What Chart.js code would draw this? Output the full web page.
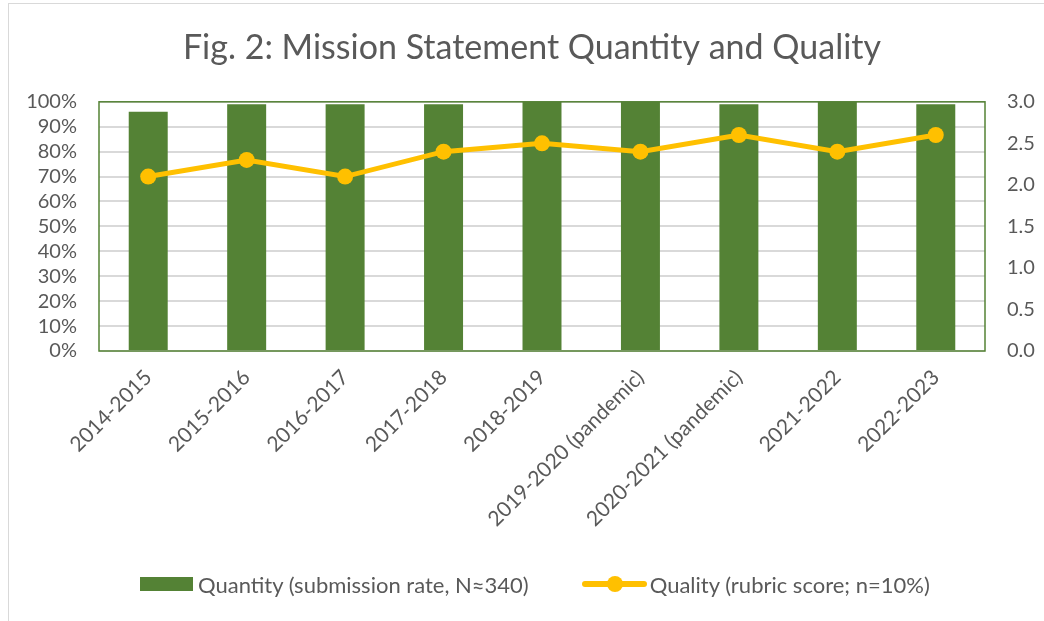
<!DOCTYPE html>
<html>
<head>
<meta charset="utf-8">
<script src="https://cdn.jsdelivr.net/npm/chart.js@4.4.0/dist/chart.umd.min.js"></script>
<style>
  body { margin: 0; background: #fff; overflow: hidden; font-family: Lato, sans-serif; }
  #frame {
    position: absolute;
    left: 8px;
    top: 3px;
    width: 1100px;
    height: 700px;
    border: 1px solid #d9d9d9;
  }
  #wrap { position: absolute; left: 0; top: 0; width: 1044px; height: 621px; }
  #legend {
    position: absolute;
    left: 140px;
    top: 570px;
    height: 28px;
    display: flex;
    align-items: center;
    color: #595959;
    font-size: 22px;
    white-space: nowrap;
  }
  .item { display: flex; align-items: center; }
  .item + .item { margin-left: 53px; }
  .box { width: 53px; height: 14px; background: #548235; margin-right: 5px; }
  .sym { position: relative; width: 65px; height: 18px; margin-right: 3px; }
  .sym::before {
    content: ''; position: absolute; left: 0; right: 0; top: 6px; height: 6px;
    background: #FFC000; border-radius: 3px;
  }
  .sym::after {
    content: ''; position: absolute; left: 25px; top: 1px; width: 16px; height: 16px;
    background: #FFC000; border-radius: 50%;
  }
</style>
</head>
<body>
<div id="frame"></div>
<div id="wrap"><canvas id="chart" width="1044" height="621"></canvas></div>
<div id="legend"></div>
<script>
const categories = [
  '2014-2015', '2015-2016', '2016-2017', '2017-2018', '2018-2019',
  '2019-2020 (pandemic)', '2020-2021 (pandemic)', '2021-2022', '2022-2023'
];
const quantity = [96, 99, 99, 99, 100, 100, 99, 100, 99];
const quality = [2.1, 2.3, 2.1, 2.4, 2.5, 2.4, 2.6, 2.4, 2.6];
const leftTicks = [0, 10, 20, 30, 40, 50, 60, 70, 80, 90, 100];
const rightTicks = [0, 0.5, 1, 1.5, 2, 2.5, 3];

const green = '#548235';
const gold = '#FFC000';
const textColor = '#595959';
const font = 'Lato';

const plotBorder = {
  id: 'plotBorder',
  afterDatasetsDraw(chart) {
    const a = chart.chartArea;
    const ctx = chart.ctx;
    ctx.save();
    ctx.strokeStyle = green;
    ctx.lineWidth = 1.5;
    ctx.strokeRect(a.left, a.top, a.right - a.left, a.bottom - a.top);
    ctx.restore();
  }
};

const chart = new Chart(document.getElementById('chart'), {
  data: {
    labels: categories,
    datasets: [
      {
        type: 'line',
        label: 'Quality (rubric score; n=10%)',
        data: quality,
        yAxisID: 'y1',
        borderColor: gold,
        backgroundColor: gold,
        borderWidth: 5,
        pointRadius: 8,
        pointHoverRadius: 8,
        pointBorderWidth: 0,
        tension: 0,
        order: 0
      },
      {
        type: 'bar',
        label: 'Quantity (submission rate, N≈340)',
        data: quantity,
        yAxisID: 'y',
        backgroundColor: green,
        categoryPercentage: 1,
        barPercentage: 0.396,
        order: 1
      }
    ]
  },
  plugins: [plotBorder],
  options: {
    responsive: false,
    animation: false,
    layout: { padding: { left: 20, right: 0, top: 0, bottom: 0 } },
    plugins: {
      title: {
        display: true,
        text: 'Fig. 2: Mission Statement Quantity and Quality',
        color: textColor,
        font: { family: font, size: 34, weight: 'normal' },
        padding: { top: 28, bottom: 33 }
      },
      legend: { display: false },
      tooltip: { enabled: false }
    },
    scales: {
      x: {
        afterFit(axis) { axis.height = 270; },
        grid: { display: false },
        border: { display: false },
        ticks: {
          color: textColor,
          font: { family: font, size: 21 },
          maxRotation: 45,
          minRotation: 45,
          padding: 6
        }
      },
      y: {
        position: 'left',
        min: 0,
        max: 100,
        afterFit(axis) { axis.width = 79; },
        afterBuildTicks(axis) { axis.ticks = leftTicks.map(v => ({ value: v })); },
        grid: { color: '#d9d9d9', lineWidth: 2, drawTicks: false },
        border: { display: false },
        ticks: {
          autoSkip: false,
          color: textColor,
          font: { family: font, size: 20 },
          padding: 22,
          callback: v => v + '%'
        }
      },
      y1: {
        position: 'right',
        min: 0,
        max: 3,
        afterFit(axis) { axis.width = 59; },
        afterBuildTicks(axis) { axis.ticks = rightTicks.map(v => ({ value: v })); },
        grid: { display: false, drawTicks: false },
        border: { display: false },
        ticks: {
          autoSkip: false,
          color: textColor,
          font: { family: font, size: 20 },
          padding: 22,
          callback: v => v.toFixed(1)
        }
      }
    }
  }
});

// legend in Excel order: bars first, then line
const legend = document.getElementById('legend');
[chart.data.datasets[1], chart.data.datasets[0]].forEach(ds => {
  const item = document.createElement('div');
  item.className = 'item';
  const sym = document.createElement('span');
  sym.className = ds.type === 'bar' ? 'box' : 'sym';
  const txt = document.createElement('span');
  txt.textContent = ds.label;
  item.appendChild(sym);
  item.appendChild(txt);
  legend.appendChild(item);
});
</script>
</body>
</html>
